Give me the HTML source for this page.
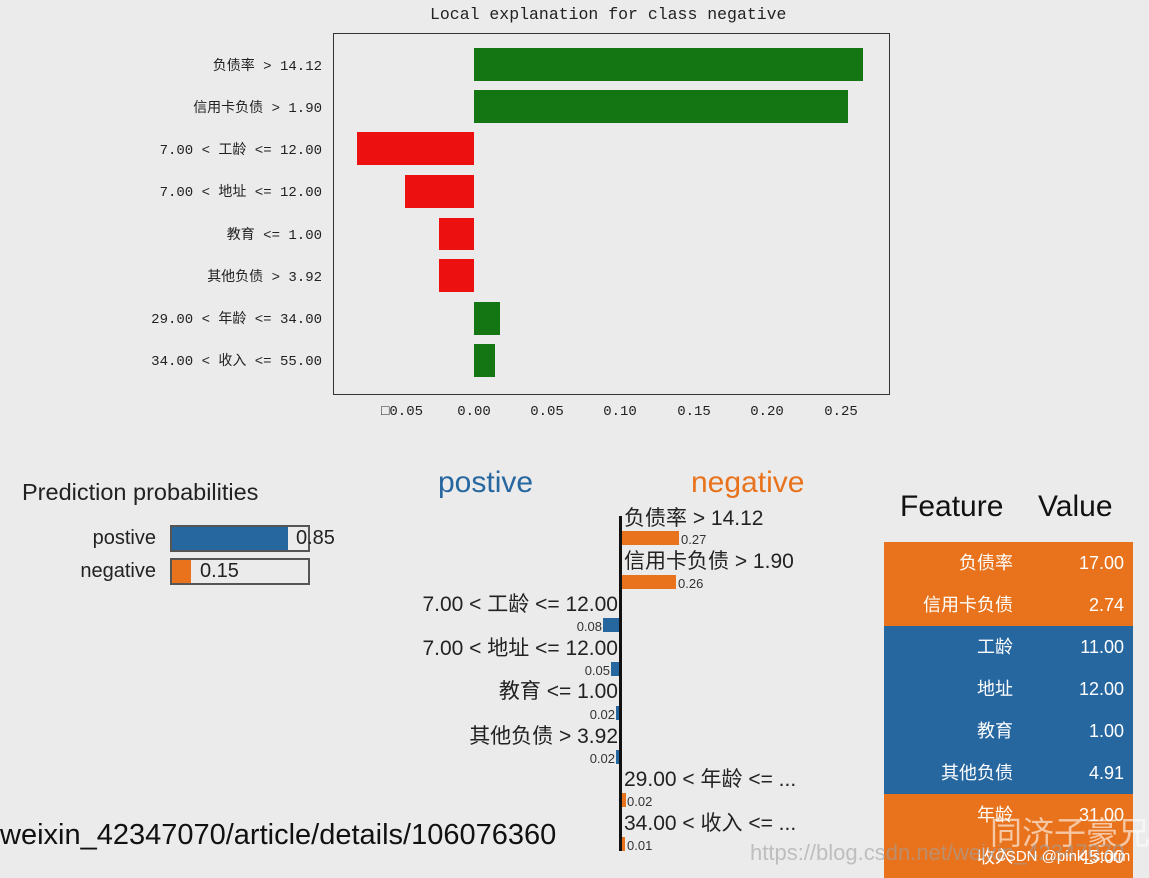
<!DOCTYPE html>
<html><head><meta charset="utf-8"><style>
body{margin:0;width:1149px;height:878px;background:#ebebeb;position:relative;overflow:hidden;font-family:"Liberation Sans","Noto Sans CJK SC",sans-serif;}
.a{position:absolute;white-space:nowrap;}
.yl{position:absolute;right:827px;font-family:"Liberation Mono","Noto Sans CJK SC",monospace;font-size:14px;color:#222;line-height:16px;white-space:nowrap;}
.xt{position:absolute;top:404px;font-family:"Liberation Mono",monospace;font-size:14px;color:#222;transform:translateX(-50%);}
.b{position:absolute;}
.ml{position:absolute;font-size:21px;color:#222;line-height:22px;white-space:nowrap;}
.sv{position:absolute;font-size:13px;color:#333;line-height:14px;}
.tr{position:absolute;left:884px;width:249px;height:42px;color:#fff;font-size:18px;}
.tr span{position:absolute;top:10px;line-height:22px;}
</style></head><body>
<div class="a" style="left:430px;top:5px;font-family:'Liberation Mono',monospace;font-size:16.5px;color:#222;">Local explanation for class negative</div>
<div class="b" style="left:333px;top:33px;width:555px;height:360px;border:1px solid #333;"></div>
<div class="b" style="left:474px;top:48px;width:389px;height:33px;background:#137613"></div>
<div class="b" style="left:474px;top:90px;width:374px;height:33px;background:#137613"></div>
<div class="b" style="left:357px;top:132px;width:117px;height:33px;background:#ec1010"></div>
<div class="b" style="left:405px;top:175px;width:69px;height:33px;background:#ec1010"></div>
<div class="b" style="left:439px;top:218px;width:35px;height:32px;background:#ec1010"></div>
<div class="b" style="left:439px;top:259px;width:35px;height:33px;background:#ec1010"></div>
<div class="b" style="left:474px;top:302px;width:26px;height:33px;background:#137613"></div>
<div class="b" style="left:474px;top:344px;width:21px;height:33px;background:#137613"></div>
<div class="yl" style="top:59px">负债率 &gt; 14.12</div>
<div class="yl" style="top:101px">信用卡负债 &gt; 1.90</div>
<div class="yl" style="top:143px">7.00 &lt; 工龄 &lt;= 12.00</div>
<div class="yl" style="top:185px">7.00 &lt; 地址 &lt;= 12.00</div>
<div class="yl" style="top:228px">教育 &lt;= 1.00</div>
<div class="yl" style="top:270px">其他负债 &gt; 3.92</div>
<div class="yl" style="top:312px">29.00 &lt; 年龄 &lt;= 34.00</div>
<div class="yl" style="top:354px">34.00 &lt; 收入 &lt;= 55.00</div>
<div class="xt" style="left:402px">□0.05</div>
<div class="xt" style="left:474px">0.00</div>
<div class="xt" style="left:547px">0.05</div>
<div class="xt" style="left:620px">0.10</div>
<div class="xt" style="left:694px">0.15</div>
<div class="xt" style="left:767px">0.20</div>
<div class="xt" style="left:841px">0.25</div>

<div class="a" style="left:22px;top:479px;font-size:23.5px;color:#222;">Prediction probabilities</div>
<div class="a" style="right:993px;top:527px;font-size:20px;color:#222;">postive</div>
<div class="a" style="right:993px;top:560px;font-size:20px;color:#222;">negative</div>
<div class="b" style="left:170px;top:525px;width:136px;height:23px;border:2px solid #555;"></div>
<div class="b" style="left:172px;top:527px;width:116px;height:23px;background:#2767a0"></div>
<div class="a" style="left:296px;top:527px;font-size:20px;color:#222;">0.85</div>
<div class="b" style="left:170px;top:558px;width:136px;height:23px;border:2px solid #555;"></div>
<div class="b" style="left:172px;top:560px;width:19px;height:23px;background:#e8731c"></div>
<div class="a" style="left:200px;top:560px;font-size:20px;color:#222;">0.15</div>

<div class="a" style="left:438px;top:466px;font-size:30px;color:#2767a0;">postive</div>
<div class="a" style="left:691px;top:466px;font-size:30px;color:#e8731c;">negative</div>
<div class="b" style="left:619px;top:516px;width:3px;height:335px;background:#111"></div>
<div class="ml" style="left:624px;top:508px">负债率 &gt; 14.12</div>
<div class="b" style="left:622px;top:531px;width:57px;height:14px;background:#e8731c"></div>
<div class="sv" style="left:681px;top:533px">0.27</div>
<div class="ml" style="left:624px;top:551px">信用卡负债 &gt; 1.90</div>
<div class="b" style="left:622px;top:575px;width:54px;height:14px;background:#e8731c"></div>
<div class="sv" style="left:678px;top:577px">0.26</div>
<div class="ml" style="right:531px;top:594px">7.00 &lt; 工龄 &lt;= 12.00</div>
<div class="b" style="left:603px;top:618px;width:16px;height:14px;background:#2767a0"></div>
<div class="sv" style="right:547px;top:620px">0.08</div>
<div class="ml" style="right:531px;top:638px">7.00 &lt; 地址 &lt;= 12.00</div>
<div class="b" style="left:611px;top:662px;width:8px;height:14px;background:#2767a0"></div>
<div class="sv" style="right:539px;top:664px">0.05</div>
<div class="ml" style="right:531px;top:681px">教育 &lt;= 1.00</div>
<div class="b" style="left:616px;top:706px;width:3px;height:14px;background:#2767a0"></div>
<div class="sv" style="right:534px;top:708px">0.02</div>
<div class="ml" style="right:531px;top:726px">其他负债 &gt; 3.92</div>
<div class="b" style="left:616px;top:750px;width:3px;height:14px;background:#2767a0"></div>
<div class="sv" style="right:534px;top:752px">0.02</div>
<div class="ml" style="left:624px;top:769px">29.00 &lt; 年龄 &lt;= ...</div>
<div class="b" style="left:622px;top:793px;width:4px;height:14px;background:#e8731c"></div>
<div class="sv" style="left:627px;top:795px">0.02</div>
<div class="ml" style="left:624px;top:813px">34.00 &lt; 收入 &lt;= ...</div>
<div class="b" style="left:622px;top:837px;width:3px;height:14px;background:#e8731c"></div>
<div class="sv" style="left:627px;top:839px">0.01</div>

<div class="a" style="left:0px;top:819px;font-size:29px;color:#111;">weixin_42347070/article/details/106076360</div>

<div class="a" style="left:900px;top:490px;font-size:30px;color:#111;">Feature</div>
<div class="a" style="left:1038px;top:490px;font-size:30px;color:#111;">Value</div>
<div class="tr" style="top:542px;background:#e8731c"><span style="right:120px">负债率</span><span style="right:9px">17.00</span></div>
<div class="tr" style="top:584px;background:#e8731c"><span style="right:120px">信用卡负债</span><span style="right:9px">2.74</span></div>
<div class="tr" style="top:626px;background:#2767a0"><span style="right:120px">工龄</span><span style="right:9px">11.00</span></div>
<div class="tr" style="top:668px;background:#2767a0"><span style="right:120px">地址</span><span style="right:9px">12.00</span></div>
<div class="tr" style="top:710px;background:#2767a0"><span style="right:120px">教育</span><span style="right:9px">1.00</span></div>
<div class="tr" style="top:752px;background:#2767a0"><span style="right:120px">其他负债</span><span style="right:9px">4.91</span></div>
<div class="tr" style="top:794px;background:#e8731c;height:84px"><span style="right:120px">年龄</span><span style="right:9px">31.00</span><span style="right:120px;top:52px">收入</span><span style="right:9px;top:52px">45.00</span></div>
<div class="a" style="left:990px;top:808px;font-size:32px;color:rgba(255,255,255,0.6);">同济子豪兄</div>
<div class="a" style="left:750px;top:840px;font-size:22px;color:rgba(160,160,160,0.6);">https://blog.csdn.net/weixin_42347070</div>
<div class="a" style="left:995px;top:848px;font-size:15px;color:#fff;">CSDN @pink_storm</div>
</body></html>
